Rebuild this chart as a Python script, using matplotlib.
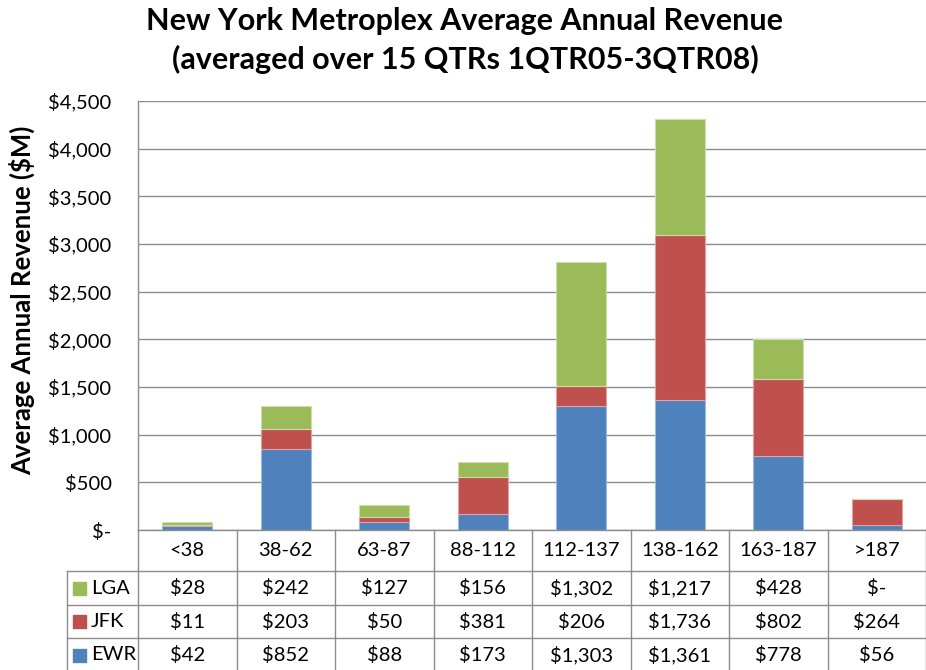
import matplotlib
matplotlib.use("Agg")
from matplotlib import pyplot as plt
from matplotlib.lines import Line2D
from matplotlib.patches import Rectangle

plt.rcParams["font.family"] = ["Lato", "DejaVu Sans"]

categories = ["<38", "38-62", "63-87", "88-112", "112-137", "138-162", "163-187", ">187"]
ewr = [42, 852, 88, 173, 1303, 1361, 778, 56]
jfk = [11, 203, 50, 381, 206, 1736, 802, 264]
lga = [28, 242, 127, 156, 1302, 1217, 428, 0]
yticks = [0, 500, 1000, 1500, 2000, 2500, 3000, 3500, 4000, 4500]

series = [("EWR", ewr, "#4F81BD", "#9DB9DC"),
          ("JFK", jfk, "#C0504D", "#DFA2A0"),
          ("LGA", lga, "#9BBB59", "#CDDDAB")]


def money(v):
    return "$-" if v == 0 else "${:,}".format(v)


W, H = 926, 670
fig = plt.figure(figsize=(W / 100, H / 100), dpi=100)

# pixel geometry of plot area / table
px_left, px_right, px_top, px_bottom = 138, 926, 101, 530
ax = fig.add_axes([px_left / W, 1 - px_bottom / H,
                   (px_right - px_left) / W, (px_bottom - px_top) / H])

n = len(categories)
x = list(range(n))
bottom = [0] * n
for name, vals, col, edge in series:
    ax.bar(x, vals, width=0.51, bottom=bottom, color=col, edgecolor=edge,
           linewidth=0.8, zorder=3)
    bottom = [b + v for b, v in zip(bottom, vals)]

ax.set_xlim(-0.5, n - 0.5)
ax.set_ylim(0, 4500)
ax.set_yticks(yticks)
ax.set_yticklabels([money(t) for t in yticks], fontsize=14.5)
ax.tick_params(axis="y", length=0, pad=19)
ax.set_xticks([])
ax.grid(axis="y", color="#8c8c8c", linewidth=1.0, zorder=0)
for s in ["top", "right", "bottom"]:
    ax.spines[s].set_visible(False)
ax.spines["left"].set_color("#8c8c8c")
ax.spines["left"].set_linewidth(1.0)

fig.text(22 / W, 1 - 300 / H, "Average Annual Revenue ($M)", fontsize=18.5,
         fontweight="bold", rotation=90, ha="center", va="center")

fig.text(465 / W, 1 - 21 / H, "New York Metroplex Average Annual Revenue",
         fontsize=22, fontweight="bold", ha="center", va="center")
fig.text(465 / W, 1 - 59 / H, "(averaged over 15 QTRs 1QTR05-3QTR08)",
         fontsize=22, fontweight="bold", ha="center", va="center")

# data table below the axis (figure pixel coords)
tax = fig.add_axes([0, 0, 1, 1], facecolor="none")
tax.set_xlim(0, W)
tax.set_ylim(H, 0)
tax.axis("off")

line_kw = dict(color="#8c8c8c", linewidth=1.0)
cw = (px_right - px_left) / n
row_edges = [530, 571, 605, 638, 672]
key_left = 67

tax.add_line(Line2D([px_left, W], [row_edges[0]] * 2, **line_kw))
for y in row_edges[1:4]:
    tax.add_line(Line2D([key_left, W], [y, y], **line_kw))
tax.add_line(Line2D([key_left, key_left], [row_edges[1], H], **line_kw))
for i in range(n + 1):
    xv = px_left + i * cw
    tax.add_line(Line2D([xv, xv], [row_edges[0], H], **line_kw))

for i, c in enumerate(categories):
    tax.text(px_left + (i + 0.5) * cw, (row_edges[0] + row_edges[1]) / 2, c,
             fontsize=14.5, ha="center", va="center")

table_rows = [series[2], series[1], series[0]]
for r, (name, vals, col, edge) in enumerate(table_rows):
    yc = (row_edges[r + 1] + row_edges[r + 2]) / 2
    tax.add_patch(Rectangle((73, yc - 6.5), 13, 13, color=col))
    tax.text(91, yc, name, fontsize=14.5, ha="left", va="center")
    for i, v in enumerate(vals):
        tax.text(px_left + (i + 0.5) * cw, yc, money(v),
                 fontsize=14.5, ha="center", va="center")

fig.savefig("out.png", dpi=100)
